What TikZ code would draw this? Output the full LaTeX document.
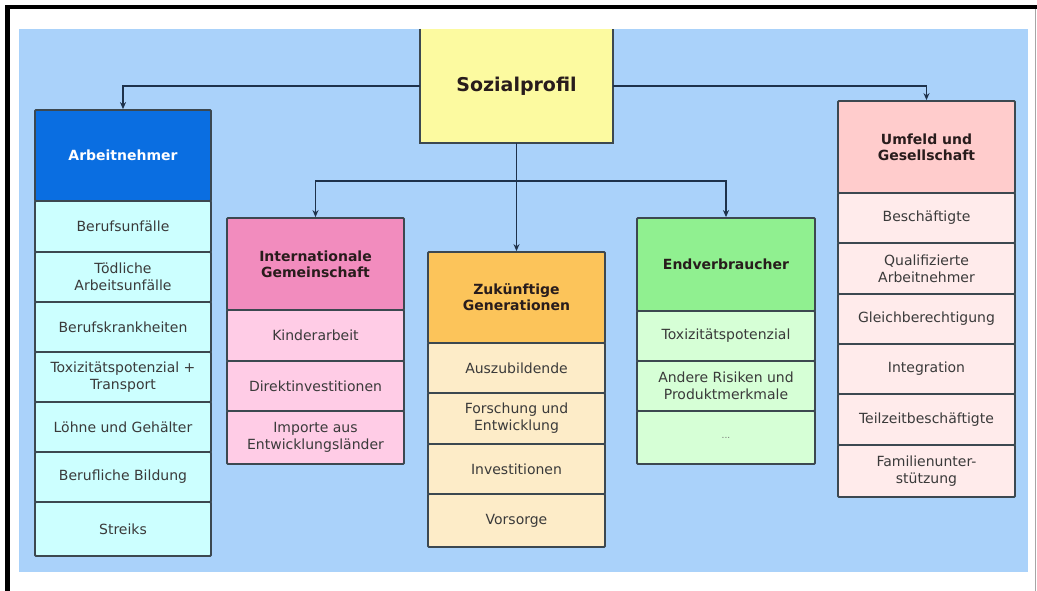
\documentclass[tikz,border=0pt]{standalone}
\usepackage{fontspec}
\setmainfont{DejaVu Sans}
\usetikzlibrary{arrows.meta}

% palette
\definecolor{bgblue}{RGB}{170,210,250}
\definecolor{rootfill}{RGB}{252,250,160}
\definecolor{edge}{RGB}{60,72,80}
\definecolor{wire}{RGB}{30,50,75}
\definecolor{txt}{RGB}{58,58,58}
\definecolor{headtxt}{RGB}{40,28,28}
\definecolor{aHead}{RGB}{10,110,225}
\definecolor{aRow}{RGB}{204,255,255}
\definecolor{iHead}{RGB}{242,140,190}
\definecolor{iRow}{RGB}{255,204,230}
\definecolor{zHead}{RGB}{252,196,90}
\definecolor{zRow}{RGB}{253,236,200}
\definecolor{eHead}{RGB}{144,240,144}
\definecolor{eRow}{RGB}{214,255,214}
\definecolor{uHead}{RGB}{255,204,204}
\definecolor{uRow}{RGB}{255,235,235}

\tikzset{
  cell/.style={draw=edge, line width=1.8pt, rounded corners=1pt, inner sep=0pt,
    align=center, font=\fontsize{14}{17}\selectfont, text=txt},
  headcell/.style={cell, font=\bfseries\fontsize{14}{16}\selectfont, text=headtxt},
  colA/.style={minimum width=176pt},
  colI/.style={minimum width=177pt},
  colZ/.style={minimum width=177pt},
  colE/.style={minimum width=178pt},
  colU/.style={minimum width=177pt},
  conn/.style={draw=wire, line width=1.8pt, -{Stealth[length=7pt,width=6pt]}},
}

\begin{document}
\begin{tikzpicture}[x=1pt,y=-1pt]
\useasboundingbox (0,0) rectangle (1037,591);
\fill[white] (0,0) rectangle (1037,591);

% outer frame
\draw[line width=4.5pt,black] (7.5,591) -- (7.5,7) -- (1037,7);
\draw[line width=1pt,black!35] (1035,9) -- (1035,591);

% panel
\fill[bgblue] (19,29) rectangle (1028,572);

% root
\node[fill=rootfill, minimum width=193pt, minimum height=114pt, inner sep=0pt,
      font=\bfseries\fontsize{19}{22}\selectfont, text=headtxt] (soz) at (516.5,86) {Sozialprofil};
\draw[edge, line width=1.8pt] (soz.north west) -- (soz.south west) -- (soz.south east) -- (soz.north east);

% Arbeitnehmer
\node[headcell, colA, fill=aHead, text=white, minimum height=91pt] (A) at (123,155.5) {Arbeitnehmer};
\node[cell, colA, fill=aRow, minimum height=51pt] (A1) at (123,226.5) {Berufsunfälle};
\node[cell, colA, fill=aRow, minimum height=50pt] (A2) at (123,277) {Tödliche\\Arbeitsunfälle};
\node[cell, colA, fill=aRow, minimum height=50pt] (A3) at (123,327) {Berufskrankheiten};
\node[cell, colA, fill=aRow, minimum height=50pt] (A4) at (123,377) {Toxizitätspotenzial +\\Transport};
\node[cell, colA, fill=aRow, minimum height=50pt] (A5) at (123,427) {Löhne und Gehälter};
\node[cell, colA, fill=aRow, minimum height=50pt] (A6) at (123,477) {Berufliche Bildung};
\node[cell, colA, fill=aRow, minimum height=54pt] (A7) at (123,529) {Streiks};

% Internationale Gemeinschaft
\node[headcell, colI, fill=iHead, minimum height=92pt] (I) at (315.5,264) {Internationale\\Gemeinschaft};
\node[cell, colI, fill=iRow, minimum height=51pt] (I1) at (315.5,335.5) {Kinderarbeit};
\node[cell, colI, fill=iRow, minimum height=50pt] (I2) at (315.5,386) {Direktinvestitionen};
\node[cell, colI, fill=iRow, minimum height=53pt] (I3) at (315.5,437.5) {Importe aus\\Entwicklungsländer};

% Zukuenftige Generationen
\node[headcell, colZ, fill=zHead, minimum height=91pt] (Z) at (516.5,297.5) {Zukünftige\\Generationen};
\node[cell, colZ, fill=zRow, minimum height=50pt] (Z1) at (516.5,368) {Auszubildende};
\node[cell, colZ, fill=zRow, minimum height=51pt] (Z2) at (516.5,418.5) {Forschung und\\Entwicklung};
\node[cell, colZ, fill=zRow, minimum height=50pt] (Z3) at (516.5,469) {Investitionen};
\node[cell, colZ, fill=zRow, minimum height=53pt] (Z4) at (516.5,520.5) {Vorsorge};

% Endverbraucher
\node[headcell, colE, fill=eHead, minimum height=93pt] (E) at (726,264.5) {Endverbraucher};
\node[cell, colE, fill=eRow, minimum height=50pt] (E1) at (726,336) {Toxizitätspotenzial};
\node[cell, colE, fill=eRow, minimum height=50pt] (E2) at (726,386) {Andere Risiken und\\Produktmerkmale};
\node[cell, colE, fill=eRow, minimum height=53pt, font=\fontsize{9}{11}\selectfont, text=black!55] (E3) at (726,437.5) {...};

% Umfeld und Gesellschaft
\node[headcell, colU, fill=uHead, minimum height=92pt] (U) at (926.5,147) {Umfeld und\\Gesellschaft};
\node[cell, colU, fill=uRow, minimum height=50pt] (U1) at (926.5,218) {Beschäftigte};
\node[cell, colU, fill=uRow, minimum height=51pt] (U2) at (926.5,268.5) {Qualifizierte\\Arbeitnehmer};
\node[cell, colU, fill=uRow, minimum height=50pt] (U3) at (926.5,319) {Gleichberechtigung};
\node[cell, colU, fill=uRow, minimum height=50pt] (U4) at (926.5,369) {Integration};
\node[cell, colU, fill=uRow, minimum height=51pt] (U5) at (926.5,419.5) {Teilzeitbeschäftigte};
\node[cell, colU, fill=uRow, minimum height=52pt] (U6) at (926.5,471) {Familienunter-\\stützung};

% connectors
\coordinate (split) at (516.5,181);
\draw[conn] (soz.west) -| (A.north);
\draw[conn] (soz.east) -| (U.north);
\draw[conn] (soz.south) -- (Z.north);
\draw[conn] (split) -| (I.north);
\draw[conn] (split) -| (E.north);
\end{tikzpicture}
\end{document}
